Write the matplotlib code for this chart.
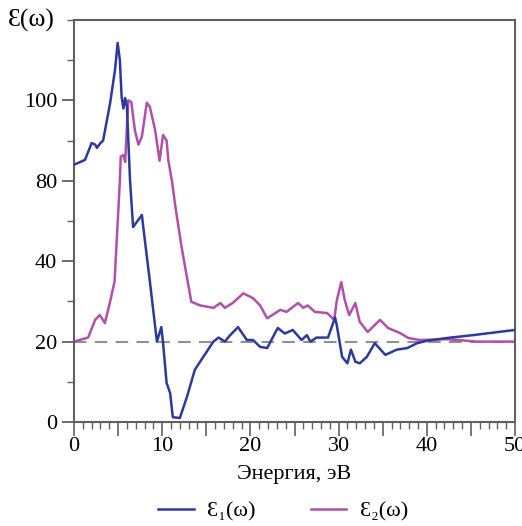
import matplotlib
matplotlib.use("Agg")
import matplotlib.pyplot as plt
from matplotlib.ticker import MultipleLocator

# Data (energy in eV, values in axis position units)
e1_x = [0, 1.25, 2.0, 2.4, 2.6, 3.0, 3.3, 4.1, 4.65, 4.95, 5.2, 5.4, 5.6, 5.8, 6.0, 6.35,
        6.7, 7.7, 7.8, 8.6, 9.4, 9.9, 10.1, 10.5, 10.9, 11.2, 12.0, 12.8, 13.7, 14.6, 15.8,
        16.4, 17.1, 17.7, 18.6, 19.6, 20.3, 21.1, 21.9, 23.1, 23.9, 24.8, 25.8, 26.4, 26.8,
        27.5, 28.8, 29.6, 29.8, 30.4, 31.0, 31.4, 31.9, 32.4, 33.2, 34.1, 35.3, 36.6, 37.8,
        38.9, 40.0, 42.3, 45.2, 50.0]
e1_y = [64, 65.2, 69.4, 69, 68.2, 69.4, 70, 79.4, 87.6, 94.3, 90, 80.9, 78, 80.6, 78.4, 60.2,
        48.5, 51.5, 49.5, 35, 20, 23.6, 19.6, 9.7, 7.2, 1.2, 1, 6.2, 13, 16, 20,
        21, 20, 21.6, 23.6, 20.4, 20.4, 18.7, 18.4, 23.4, 22, 22.9, 20.4, 21.6, 20,
        21, 21, 26, 24, 16.2, 14.6, 18, 15, 14.6, 16.2, 19.6, 16.7, 18, 18.4,
        19.6, 20.2, 20.9, 21.6, 22.9]

e2_x = [0, 1.6, 2.4, 2.9, 3.1, 3.5, 4.1, 4.6, 5.2, 5.3, 5.6, 5.8, 6.15, 6.5, 6.9, 7.3, 7.7,
        8.25, 8.6, 9.2, 9.7, 10.1, 10.5, 10.7, 11.1, 11.5, 12.2, 13.3, 14.3, 15.8, 16.6,
        17.1, 18.0, 19.2, 20.3, 21.1, 21.9, 23.4, 24.1, 25.4, 26.0, 26.5, 27.3, 28.7, 29.5,
        29.8, 30.3, 30.7, 31.2, 31.9, 32.4, 33.3, 34.7, 35.6, 37.0, 37.9, 39.2, 42.3, 45.7, 50.0]
e2_y = [20, 21, 25.4, 26.6, 26, 24.6, 30, 35, 60, 66, 66.4, 64.7, 80, 79.6, 72.6, 69, 71,
        79.4, 78.4, 72.6, 65, 71.4, 70, 65, 60, 53.5, 43.5, 29.9, 29, 28.4, 29.6,
        28.4, 29.6, 32, 30.8, 29, 25.8, 27.9, 27.4, 29.6, 28.4, 29, 27.4, 27.1, 25.4,
        30.3, 34.8, 30.3, 26.6, 29.6, 24.9, 22.4, 25.4, 23.4, 22.1, 20.9, 20.4, 20.6, 20, 20]

y_tick_pos = [0, 20, 40, 60, 80]
y_tick_labels = ["0", "20", "40", "80", "100"]
x_ticks = [0, 5, 10, 15, 20, 25, 30, 35, 40, 45, 50]

serif = ["Liberation Serif", "DejaVu Serif"]
plt.rcParams["font.family"] = serif

fig = plt.figure(figsize=(5.22, 5.26), dpi=100)
ax = fig.add_axes([74/522, 1 - 422/526, 441/522, 402/526])

blue = "#2b3a9c"
mag = "#b050aa"
ax.axhline(20, color="#909090", lw=1.5, dashes=(6, 4), zorder=1)
ax.plot(e1_x, e1_y, color=blue, lw=1.8, label="Ɛ₁(ω)", zorder=3)
ax.plot(e2_x, e2_y, color=mag, lw=1.8, label="Ɛ₂(ω)", zorder=2)

ax.set_xlim(0, 50)
ax.set_ylim(0, 100)
ax.set_xticks(x_ticks)
ax.set_xticklabels([str(t) if t % 10 == 0 else "" for t in x_ticks])
ax.xaxis.set_minor_locator(MultipleLocator(1))
ax.set_yticks(y_tick_pos)
ax.set_yticklabels(y_tick_labels)
ax.yaxis.set_minor_locator(MultipleLocator(10))

gc = "#606060"
for s in ax.spines.values():
    s.set_color(gc)
    s.set_linewidth(1.5)
ax.tick_params(axis="x", which="major", direction="out", length=10, width=1.2, color=gc,
               labelsize=16, pad=1)
ax.tick_params(axis="x", which="minor", direction="out", length=5, width=1.0, color=gc)
ax.tick_params(axis="y", which="major", direction="out", length=9, width=1.3, color=gc,
               labelsize=16, pad=3)
ax.tick_params(axis="y", which="minor", direction="out", length=5, width=1.0, color=gc)

ax.set_xlabel("Энергия, эВ", fontsize=16, labelpad=6)
fig.text(31/522, 1 - 20/526, "Ɛ(ω)", fontsize=18.5, ha="center", va="center")

fig.legend(loc="center", bbox_to_anchor=(283/522, 15/526), ncol=2, frameon=False,
           fontsize=16, handlelength=1.6, columnspacing=2.5, handletextpad=0.6)

fig.savefig("out.png", dpi=100)
